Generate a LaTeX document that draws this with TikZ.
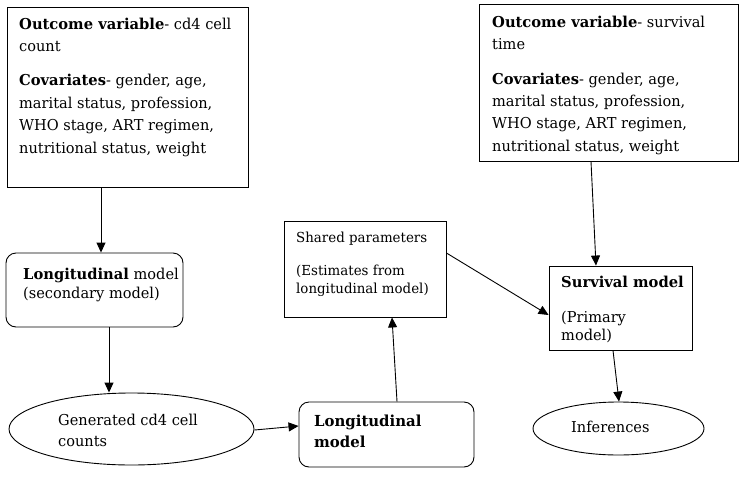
\documentclass[tikz,border=0pt]{standalone}
\usepackage{fontspec}
\setmainfont{DejaVu Serif}[FakeStretch=0.97,BoldFeatures={FakeStretch=0.98}]
\usetikzlibrary{arrows.meta,shapes.geometric}
\newcommand\fsz[2]{\fontsize{#1}{#2}\selectfont}
\begin{document}
\begin{tikzpicture}[x=1pt,y=-1pt,
  frame/.style={draw,line width=0.9pt,rectangle,inner sep=0pt},
  rframe/.style={frame,rounded corners=10pt},
  oval/.style={draw,line width=0.9pt,ellipse,inner sep=0pt},
  txt/.style={anchor=north west,inner sep=0pt,align=left},
  arr/.style={-{Triangle[length=10pt,width=9pt]},line width=0.9pt}]
\useasboundingbox (0,0) rectangle (752,482);
% shapes
\node[frame,minimum width=241pt,minimum height=180pt] (b1) at (127.5,97) {};
\node[rframe,minimum width=177pt,minimum height=74pt] (b2) at (94.5,290) {};
\node[oval,minimum width=245pt,minimum height=72pt] (e1) at (131.5,429) {};
\node[rframe,minimum width=175pt,minimum height=65pt] (lb) at (386.5,434.5) {};
\node[frame,minimum width=162pt,minimum height=96pt] (sh) at (365,269) {};
\node[frame,minimum width=259pt,minimum height=157pt] (b3) at (608.5,82.5) {};
\node[frame,minimum width=143pt,minimum height=84pt] (sv) at (620.5,308) {};
\node[oval,minimum width=171pt,minimum height=53pt] (inf) at (618.5,428.5) {};
% texts
\node[txt,font={\fsz{15}{22.7}}] (t1) at (19,17.5) {\textbf{Outcome variable}- cd4 cell\\count\\[11pt]
  \textbf{Covariates}- gender, age,\\marital status, profession,\\WHO stage, ART regimen,\\nutritional status, weight};
\node[txt,font={\fsz{15}{22.3}}] (t3) at (492,15.5) {\textbf{Outcome variable}- survival\\time\\[12.5pt]
  \textbf{Covariates}- gender, age,\\marital status, profession,\\WHO stage, ART regimen,\\nutritional status, weight};
\node[txt,font={\fsz{15}{19}}] (t2) at (23,267.5) {\textbf{Longitudinal} model\\(secondary model)};
\node[txt,font={\fsz{15}{21}}] (te) at (58,413.5) {Generated cd4 cell\\counts};
\node[txt,font={\fsz{15.2}{21}}] (tl) at (314,414.5) {\textbf{Longitudinal}\\\textbf{model}};
\node[txt,font={\fsz{13.8}{18}}] (ts) at (296,231.6) {Shared parameters\\[15pt](Estimates from\\longitudinal model)};
\node[txt,font={\fsz{15}{18}}] (tv) at (561,275.5) {\textbf{Survival model}\\[17pt](Primary\\model)};
\node[txt,font={\fsz{15}{18}}] (ti) at (571,420.5) {Inferences};
% connectors
\draw[arr] ([xshift=-26.5pt]b1.south) -- ([xshift=6.5pt]b2.north);
\draw[arr] ([xshift=14.5pt]b2.south) -- ([xshift=-22.5pt]e1.north);
\draw[arr] ([yshift=-1pt]e1.east) -- ([yshift=8.5pt]lb.west);
\draw[arr] ([xshift=10.5pt]lb.north) -- ([xshift=27pt]sh.south);
\draw[arr] ([yshift=16pt]sh.east) -- ([yshift=-7pt]sv.west);
\draw[arr] ([xshift=-17.5pt]b3.south) -- ([xshift=-24.5pt]sv.north);
\draw[arr] ([xshift=-7.5pt]sv.south) -- ([xshift=0.5pt]inf.north);
\end{tikzpicture}
\end{document}
